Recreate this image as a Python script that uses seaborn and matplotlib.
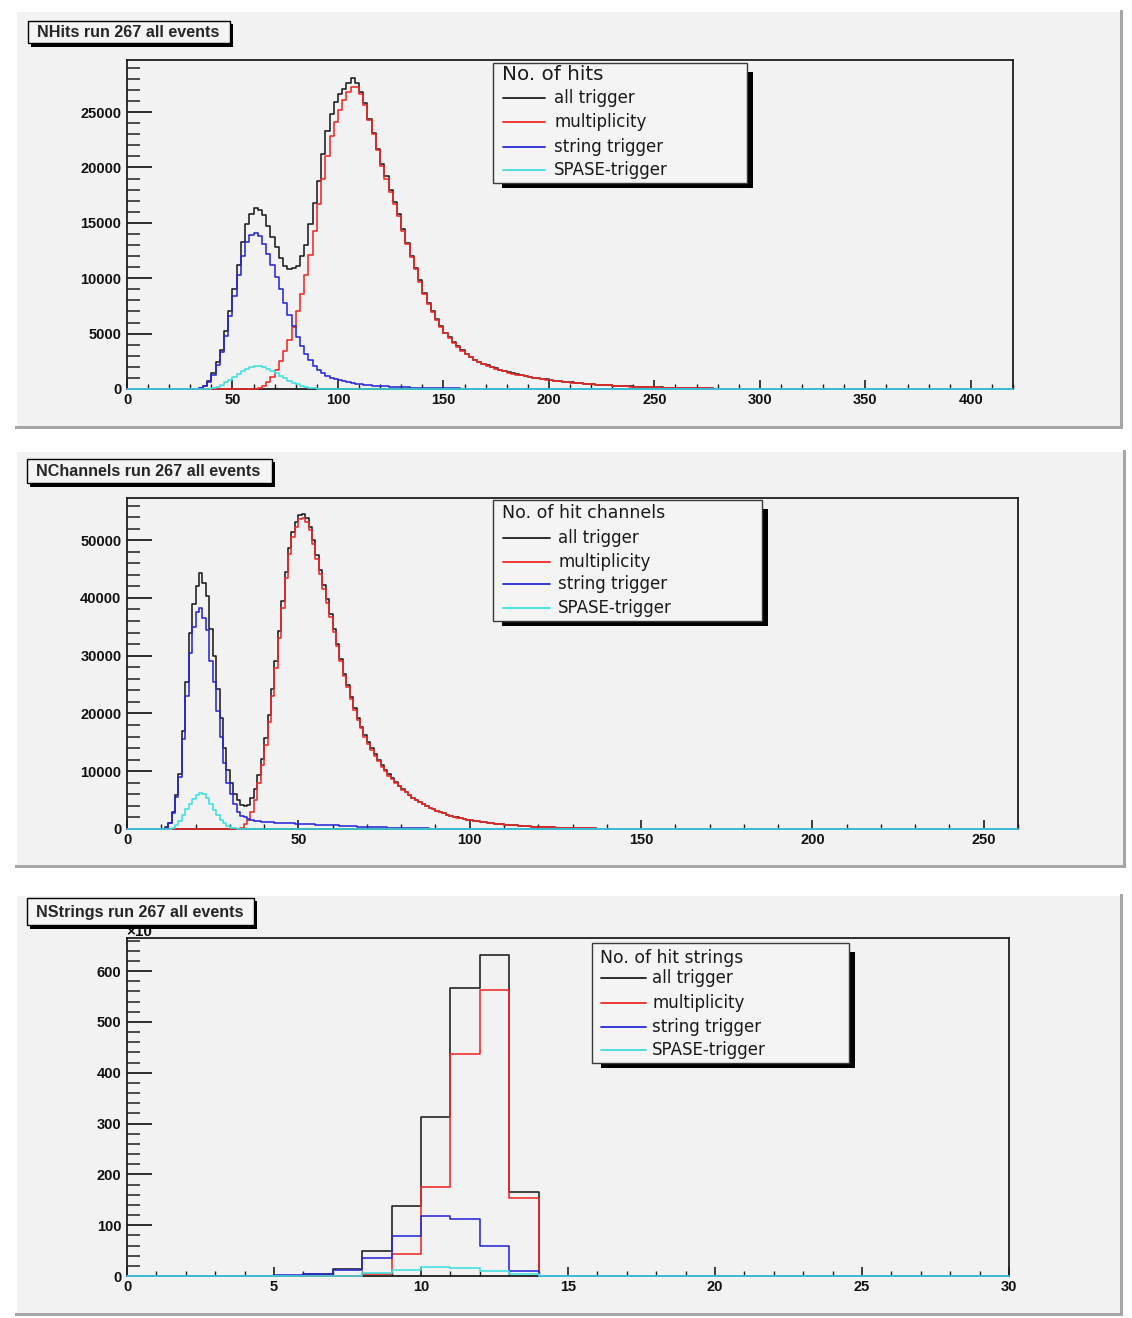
import numpy as np
import pandas as pd
import seaborn as sns
import matplotlib
matplotlib.use("Agg")
import matplotlib.pyplot as plt
from matplotlib.patches import Rectangle
from matplotlib.lines import Line2D

# ---------------------------------------------------------------- data
# NHits: 2-hit bins, first listed bin starts at 30 hits
nhits_first_edge = 30
nhits_all = [
    0, 0, 100, 300, 700, 1450, 2400, 3500, 5200, 7000,
    9000, 11200, 13300, 14900, 15800, 16300, 16200, 15700, 14700, 13700,
    12800, 11800, 11100, 10800, 10900, 11100, 12000, 13000, 14900, 16800,
    18800, 21200, 23300, 24800, 25900,
    26600, 27100, 27600, 28100, 27600, 26800, 25800, 24400, 23100, 21700,
    20300, 19200, 18000, 16900, 15800, 14400, 13200, 12000, 10900, 9800,
    8700, 7800, 7000, 6300, 5700, 5100, 4650, 4200, 3850, 3500,
    3150, 2900, 2650, 2450, 2300, 2150, 2000, 1880, 1750, 1620,
    1500, 1400, 1320, 1250, 1170, 1100, 1030, 970, 910, 860,
    810, 760, 710, 670, 630, 590, 550, 520, 490, 460,
    430, 400, 380, 350, 330, 310, 290, 270, 250, 230,
    215, 200, 185, 170, 160, 150, 140, 130, 120, 110,
    100, 92, 85, 78, 72, 66, 60, 55, 50, 45,
    40, 36, 32, 28, 25, 22, 19, 16, 13, 10,
]
nhits_mult = [
    0, 0, 0, 0, 0, 0, 0, 0, 0, 0,
    0, 0, 0, 0, 0, 0, 100, 250, 600, 1100,
    1700, 2500, 3400, 4400, 5600, 7000, 8600, 10300, 12100, 14300,
    16700, 19000, 21000, 22800, 24100,
    25200, 26100, 26800, 27300, 27300, 26600, 25600, 24300, 23000, 21600,
    20100, 19000, 17800, 16700, 15600, 14250, 13050, 11900, 10800, 9700,
    8600, 7700, 6920, 6230, 5640, 5050, 4600, 4160, 3810, 3470,
    3120, 2870, 2620, 2420, 2270, 2120, 1970, 1850, 1720, 1590,
    1470, 1370, 1290, 1220, 1140, 1080, 1010, 950, 890, 840,
    790, 745, 695, 655, 615, 575, 540, 510, 480, 450,
    420, 390, 370, 345, 325, 305, 285, 265, 245, 225,
    210, 195, 180, 165, 155, 145, 135, 125, 115, 105,
    95, 88, 81, 75, 69, 63, 58, 53, 48, 43,
    38, 34, 30, 27, 24, 21, 18, 15, 12, 9,
]
nhits_string = [
    0, 0, 80, 250, 650, 1300, 2200, 3300, 4800, 6600,
    8400, 10300, 12000, 13300, 13900, 14100, 13800, 13100, 12200, 11200,
    10100, 9000, 7800, 6700, 5700, 4700, 3900, 3200, 2600, 2100,
    1750, 1450, 1200, 1000, 880,
    780, 680, 600, 530, 470, 420, 380, 340, 310, 280,
    250, 230, 210, 190, 170, 155, 140, 130, 120, 110,
    100, 92, 85, 78, 72, 66, 60, 55, 50, 45,
    41, 38, 35, 32, 30, 28, 26, 24, 22, 20,
    18, 16, 14, 12, 10, 9, 8, 7, 6, 5,
    4, 4, 3, 3, 2, 2, 1, 1, 1, 1,
]
nhits_spase = [
    0, 0, 0, 0, 0, 50, 200, 380, 600, 850,
    1100, 1350, 1580, 1800, 1980, 2100, 2100, 2000, 1820, 1620,
    1400, 1170, 960, 760, 580, 430, 300, 200, 130, 80,
    40, 20, 10,
]

# NChannels: 1-channel bins, first listed bin starts at 10 channels
nchan_first_edge = 10
nchan_all = [
    0, 300, 1000, 3000, 5900, 9500, 17000, 25500, 34000, 39000,
    42000, 44400, 42500, 40300, 34700, 30000, 24300, 19200, 14000, 10200,
    8000, 6000, 5000, 4200, 3900, 4200, 5300, 7000, 9400, 12200,
    15700, 19700, 24300, 29000, 34200, 39400, 44500, 48600, 51500, 53200,
    54400, 54600, 53900, 52300, 50000, 47400, 44800, 42200, 39800, 37300,
    34700, 32100, 29500, 26900, 24900, 22900, 20900, 19200, 17700, 16300,
    15100, 14000, 12900, 12000, 11100, 10300, 9500, 8800, 8100, 7500,
    6900, 6400, 5900, 5450, 5050, 4650, 4300, 3980, 3680, 3400,
    3150, 2920, 2700, 2500, 2320, 2150, 2000, 1860, 1730, 1610,
    1500, 1400, 1310, 1220, 1140, 1060, 990, 920, 860, 800,
    750, 700, 650, 610, 570, 530, 490, 460, 430, 400,
    370, 345, 320, 295, 275, 255, 235, 215, 200, 185,
    170, 155, 140, 128, 116, 105, 95, 86, 78, 70,
    62, 55, 48, 42, 36, 31, 26, 22, 18, 15,
]
nchan_mult = [
    0, 0, 0, 0, 0, 0, 0, 0, 0, 0,
    0, 0, 0, 0, 0, 0, 0, 0, 0, 0,
    0, 0, 0, 200, 800, 1600, 3000, 5000, 8000, 11000,
    14500, 18500, 23100, 27800, 33000, 38200, 43400, 47600, 50500, 52300,
    53600, 53900, 53200, 51700, 49400, 46800, 44200, 41600, 39200, 36700,
    34100, 31600, 29000, 26500, 24500, 22500, 20600, 18900, 17400, 16000,
    14800, 13700, 12600, 11700, 10800, 10000, 9250, 8600, 7950, 7380,
    6800, 6320, 5830, 5390, 5000, 4610, 4270, 3950, 3660, 3380,
    3130, 2900, 2690, 2490, 2310, 2140, 1990, 1850, 1725, 1605,
    1495, 1395, 1305, 1215, 1135, 1057, 987, 917, 857, 797,
    747, 697, 647, 607, 567, 527, 487, 457, 427, 397,
    367, 342, 317, 292, 272, 252, 232, 212, 197, 182,
    167, 152, 137, 125, 113, 102, 92, 83, 75, 67,
    59, 52, 45, 39, 33, 28, 23, 19, 15, 12,
]
nchan_string = [
    0, 250, 1000, 2800, 5500, 9000, 15500, 23000, 30500, 35000,
    37600, 38200, 36500, 34500, 29000, 25500, 20500, 16000, 11500, 8000,
    6000, 4300, 3000, 2300, 2000, 1700, 1500, 1400, 1300, 1250,
    1200, 1170, 1140, 1110, 1080, 1050, 1020, 990, 960, 930,
    900, 870, 840, 810, 780, 750, 720, 700, 680, 660,
    640, 610, 580, 550, 520, 490, 460, 430, 400, 380,
    360, 340, 320, 300, 280, 260, 240, 220, 200, 180,
    165, 150, 140, 130, 120, 110, 100, 90, 80, 70,
    60, 50, 40, 30, 20, 10,
]
nchan_spase = [
    0, 0, 0, 200, 700, 1400, 2400, 3500, 4400, 5200,
    5900, 6200, 6000, 5300, 4300, 3300, 2400, 1600, 1000, 500,
    250, 100, 30,
]

# NStrings: 1-string bins from 0, in units of 10^3 events
nstr_first_edge = 0
nstr_all = [0, 0, 0, 0, 0, 0, 3, 14, 49, 138, 312, 567, 632, 165]
nstr_mult = [0, 0, 0, 0, 0, 0, 0, 0, 3, 44, 175, 437, 562, 154]
nstr_string = [0, 0, 0, 0, 0, 1, 4, 12, 36, 79, 118, 113, 60, 10]
nstr_spase = [0, 0, 0, 0, 0, 0, 0, 0, 5, 11, 17, 15, 10, 3]

series_names = ["all trigger", "multiplicity", "string trigger", "SPASE-trigger"]
series_colors = ["#1c1c1c", "#f02828", "#2828d8", "#3ce0e0"]

nhits_xticks = [0, 50, 100, 150, 200, 250, 300, 350, 400]
nhits_yticks = [0, 5000, 10000, 15000, 20000, 25000]
nchan_xticks = [0, 50, 100, 150, 200, 250]
nchan_yticks = [0, 10000, 20000, 30000, 40000, 50000]
nstr_xticks = [0, 5, 10, 15, 20, 25, 30]
nstr_yticks = [0, 100, 200, 300, 400, 500, 600]

panel_titles = ["NHits run 267 all events", "NChannels run 267 all events",
                "NStrings run 267 all events"]
legend_titles = ["No. of hits", "No. of hit channels", "No. of hit strings"]

# ---------------------------------------------------------------- figure
W, H, DPI = 1132, 1318, 100
PAD_FACE = "#f2f2f2"
FRAME = "#1e1e1e"

sns.set_theme(style="white")
plt.rcParams["font.family"] = ["Liberation Sans", "DejaVu Sans"]

fig = plt.figure(figsize=(W / DPI, H / DPI), dpi=DPI, facecolor="white")


def rect(x0, y0, x1, y1, z=-1, **kw):
    """Rectangle given in pixel coordinates (origin top-left)."""
    r = Rectangle((x0 / W, 1 - y1 / H), (x1 - x0) / W, (y1 - y0) / H,
                  transform=fig.transFigure, zorder=z, **kw)
    fig.add_artist(r)
    return r


def text(x, y, s, z=6, **kw):
    return fig.text(x / W, 1 - y / H, s, zorder=z, **kw)


def pad(x0, y0, x1, y1):
    rect(x0, y0, x1, y1, z=-3, facecolor=PAD_FACE, edgecolor="none")
    rect(x0, y0, x1, y0 + 1.5, z=-2, facecolor="white", edgecolor="none")
    rect(x0, y0, x0 + 1.5, y1, z=-2, facecolor="white", edgecolor="none")
    rect(x0, y1 - 3, x1, y1, z=-2, facecolor="#a6a6a6", edgecolor="none")
    rect(x1 - 3, y0, x1, y1, z=-2, facecolor="#a6a6a6", edgecolor="none")


def title_box(x0, y0, x1, y1, label):
    rect(x0 + 3, y0 + 3, x1 + 3, y1 + 3.5, z=7, facecolor="black", edgecolor="none")
    rect(x0, y0, x1, y1, z=8, facecolor="#f4f4f4", edgecolor="black", linewidth=1.0)
    text(x0 + 9, (y0 + y1) / 2 + 0.5, label, z=9, fontsize=11.6, fontweight="bold",
         va="center", ha="left", family=["Liberation Sans", "DejaVu Sans"])


def legend_box(x0, y0, x1, y1, title, title_y, title_size, row_ys, lx0, lx1, tx):
    rect(x0 + 9, y0 + 9, x1 + 6, y1 + 5, z=7, facecolor="black", edgecolor="none")
    rect(x0, y0, x1, y1, z=8, facecolor="#f4f4f4", edgecolor="#3a3a3a", linewidth=1.0)
    text(lx0 - 1, title_y, title, z=9, fontsize=title_size, va="center", ha="left",
         family=["DejaVu Sans"], color="#1a1a1a")
    for name, col, yy in zip(series_names, series_colors, row_ys):
        fig.add_artist(Line2D([lx0 / W, lx1 / W], [1 - yy / H, 1 - yy / H],
                              transform=fig.transFigure, color=col, lw=1.3, zorder=9))
        text(tx, yy, name, z=9, fontsize=12, va="center", ha="left",
             family=["DejaVu Sans"], color="#1a1a1a")


def make_axes(l, t, r, b):
    ax = fig.add_axes([l / W, 1 - b / H, (r - l) / W, (b - t) / H])
    ax.set_facecolor(PAD_FACE)
    for s in ax.spines.values():
        s.set_color(FRAME)
        s.set_linewidth(1.3)
        s.set_visible(True)
    return ax


def full_bins(values, first_edge, width, xmax):
    nb = int(round(xmax / width))
    edges = np.linspace(0, xmax, nb + 1)
    counts = np.zeros(nb)
    start = int(round(first_edge / width))
    counts[start:start + len(values)] = values
    return edges, counts


def draw_panel(ax, series, first_edge, width, xmax, ymax,
               xticks, xminor, yticks, yminor):
    nb = int(round(xmax / width))
    frames = []
    for name, vals in zip(series_names, series):
        edges, counts = full_bins(vals, first_edge, width, xmax)
        centers = 0.5 * (edges[:-1] + edges[1:])
        frames.append(pd.DataFrame({"x": centers, "n": counts, "trigger": name}))
    data = pd.concat(frames, ignore_index=True)
    for name, col in zip(series_names, series_colors):
        sub = data[data["trigger"] == name]
        sns.histplot(data=sub, x="x", weights="n", bins=nb, binrange=(0, xmax),
                     element="step", fill=False, color=col, linewidth=1.15, ax=ax,
                     clip_on=False, zorder=3)
    ax.set_xlim(0, xmax)
    ax.set_ylim(0, ymax)
    ax.set_xlabel("")
    ax.set_ylabel("")
    tick_font = {"fontsize": 10.5, "fontweight": "bold", "family": "Liberation Sans"}
    ax.set_xticks(xticks)
    ax.set_xticklabels([str(v) for v in xticks], fontdict=tick_font)
    ax.set_xticks(xminor, minor=True)
    ax.set_yticks(yticks)
    ax.set_yticklabels([str(v) for v in yticks], fontdict=tick_font)
    ax.set_yticks(yminor, minor=True)
    ax.tick_params(axis="x", which="major", direction="in", length=6.5, width=1.2,
                   bottom=True, top=False, pad=3, color=FRAME, labelcolor="#111111")
    ax.tick_params(axis="x", which="minor", direction="in", length=3.5, width=1.0,
                   bottom=True, top=False, color=FRAME)
    ax.tick_params(axis="y", which="major", direction="in", length=18, width=1.3,
                   left=True, right=False, pad=4, color=FRAME, labelcolor="#111111")
    ax.tick_params(axis="y", which="minor", direction="in", length=9.5, width=1.1,
                   left=True, right=False, color=FRAME)
    ax.grid(False)


# pads
pad(15, 10, 1123, 429)
pad(15, 450, 1126, 868)
pad(15, 894, 1123, 1316)

# panel 1: NHits
ax1 = make_axes(127, 60, 1013, 389)
draw_panel(ax1, [nhits_all, nhits_mult, nhits_string, nhits_spase],
           nhits_first_edge, 2, 420, 29700,
           nhits_xticks, np.arange(0, 421, 10), nhits_yticks, np.arange(0, 29701, 1000))
title_box(28, 21, 230, 43, panel_titles[0])
legend_box(493, 63, 747, 183, legend_titles[0], 74, 14.3,
           [98, 122, 147, 170], 503, 545, 554)

# panel 2: NChannels
ax2 = make_axes(127, 498, 1018, 829)
draw_panel(ax2, [nchan_all, nchan_mult, nchan_string, nchan_spase],
           nchan_first_edge, 1, 260, 57300,
           nchan_xticks, np.arange(0, 261, 10), nchan_yticks, np.arange(0, 57301, 2000))
title_box(27, 459, 272, 483, panel_titles[1])
legend_box(493, 500, 762, 621, legend_titles[1], 513, 12.5,
           [538, 562, 584, 608], 503, 550, 558)

# panel 3: NStrings
ax3 = make_axes(127, 938, 1009, 1276)
draw_panel(ax3, [nstr_all, nstr_mult, nstr_string, nstr_spase],
           nstr_first_edge, 1, 30, 665,
           nstr_xticks, np.arange(0, 31, 1), nstr_yticks, np.arange(0, 665, 20))
# axis multiplier, partly tucked under the title box
text(126, 935.5, "\u00d710", z=5, fontsize=11, fontweight="bold",
     va="baseline", ha="left", color="#111111")
title_box(27, 898, 254, 925, panel_titles[2])
legend_box(592, 943, 849, 1063, legend_titles[2], 958, 12.4,
           [978, 1003, 1027, 1050], 601, 646, 652)

fig.savefig("out.png", dpi=DPI, facecolor="white")
